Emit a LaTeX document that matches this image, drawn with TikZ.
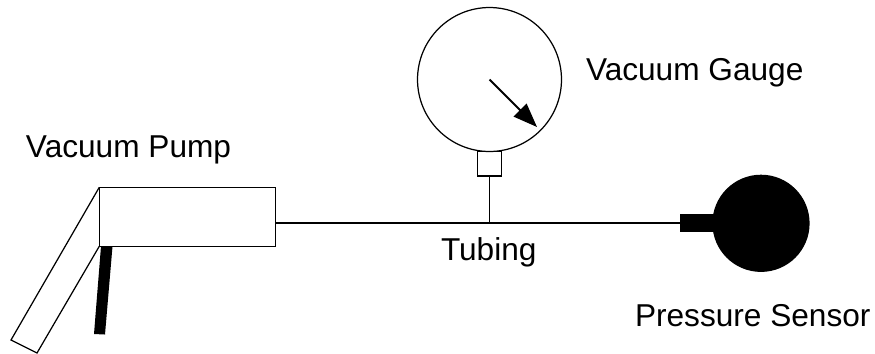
\documentclass[tikz,border=0pt]{standalone}
\usepackage{fontspec}
\setmainfont{Liberation Sans}
\usepackage{tikz}
\usetikzlibrary{arrows.meta,positioning}

\begin{document}
\begin{tikzpicture}[x=0.02cm,y=-0.02cm]
\tikzstyle{every node}=[outer sep=0pt,inner sep=0pt,line width=0.7pt]
\tikzstyle{part}=[rectangle,draw]
\tikzstyle{dial}=[circle,draw]
\tikzstyle{solid part}=[draw,fill=black]
\tikzstyle{caption}=[anchor=base west,font=\fontsize{18pt}{21pt}\selectfont]
\useasboundingbox (0,0) rectangle (875,353);
\node[part,minimum width=3.53cm,minimum height=1.18cm] (pump) at (187.5,216.8) {};
\node[dial,minimum size=2.88cm] (gauge) at (489.5,79.5) {};
\node[part,minimum width=0.48cm,minimum height=0.49cm,below=0pt of gauge] (stem) {};
\node[solid part,circle,minimum size=1.92cm] (sensor) at (761,223.3) {};
\node[solid part,rectangle,minimum width=0.68cm,minimum height=0.33cm] (plug) at (698,223.3) {};
\node[caption] (pumplabel) at (26,157) {Vacuum Pump};
\node[caption] (gaugelabel) at (586,80) {Vacuum Gauge};
\node[caption] (tubelabel) at (441,260) {Tubing};
\node[caption] (sensorlabel) at (635,326) {Pressure Sensor};
\coordinate (pumpout) at (pump.east |- plug.west);
\coordinate (tee) at (stem.south |- plug.west);
\coordinate (handlea) at (11,340);
\coordinate (handleb) at (37,353);
\coordinate (tip) at (537,127);
\draw[line width=1pt] (pumpout) -- (plug.west);
\draw[line width=1pt] (stem.south) -- (tee);
\draw[line width=0.7pt] (pump.north west) -- (handlea) -- (handleb) -- (pump.south west);
\fill (101,246.3) -- (112.5,246.3) -- (105,334.5) -- (94,334) -- cycle;
\draw[line width=1.1pt,-{Triangle[length=0.48cm,width=0.36cm]}] (gauge.center) -- (tip);
\end{tikzpicture}
\end{document}
